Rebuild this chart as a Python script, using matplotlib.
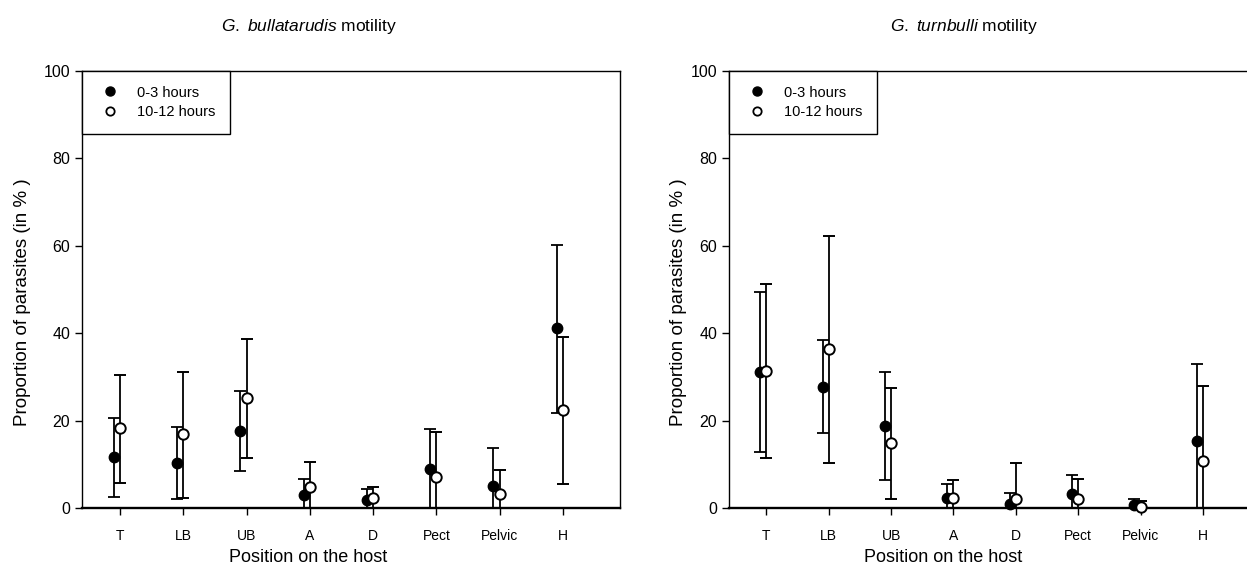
import numpy as np
import matplotlib
matplotlib.use('Agg')
import matplotlib.pyplot as plt
from matplotlib.lines import Line2D

plt.rcParams['font.family'] = ['Liberation Sans', 'DejaVu Sans']
plt.rcParams['mathtext.fontset'] = 'custom'
plt.rcParams['mathtext.it'] = 'Liberation Sans:italic'
plt.rcParams['mathtext.rm'] = 'Liberation Sans'

# categories on the x axis
positions = ['T', 'LB', 'UB', 'A', 'D', 'Pect', 'Pelvic', 'H']

# G. bullatarudis: 0-3 hours (mean, lower, upper)
gb_early = [11.7, 10.2, 17.6, 3.0, 1.8, 8.9, 5.1, 41.1]
gb_early_lo = [2.6, 2.0, 8.5, 0.0, 0.0, 0.0, 0.0, 21.7]
gb_early_hi = [20.7, 18.6, 26.7, 6.6, 4.3, 18.0, 13.7, 60.2]
# G. bullatarudis: 10-12 hours
gb_late = [18.2, 16.9, 25.2, 4.7, 2.2, 7.0, 3.1, 22.4]
gb_late_lo = [5.8, 2.3, 11.4, 0.0, 0.0, 0.0, 0.0, 5.6]
gb_late_hi = [30.4, 31.1, 38.7, 10.5, 4.7, 17.3, 8.8, 39.1]

# G. turnbulli: 0-3 hours
gt_early = [31.2, 27.8, 18.8, 2.2, 0.9, 3.2, 0.7, 15.3]
gt_early_lo = [12.9, 17.1, 6.4, 0.0, 0.0, 0.0, 0.0, 0.0]
gt_early_hi = [49.4, 38.4, 31.1, 5.4, 3.4, 7.5, 2.1, 32.9]
# G. turnbulli: 10-12 hours
gt_late = [31.4, 36.3, 14.8, 2.2, 2.1, 2.1, 0.3, 10.8]
gt_late_lo = [11.4, 10.2, 2.0, 0.0, 0.0, 0.0, 0.0, 0.0]
gt_late_hi = [51.3, 62.2, 27.5, 6.4, 10.4, 6.7, 1.5, 27.9]

fig = plt.figure(figsize=(12.47, 5.79), dpi=100)
ax1 = fig.add_axes([82 / 1247, (579 - 508) / 579, 538 / 1247, 437 / 579])
ax2 = fig.add_axes([729 / 1247, (579 - 508) / 579, 530 / 1247, 437 / 579])


def draw_panel(ax, early, elo, ehi, late, llo, lhi, title, title_x, xlabel_x, ylab_x):
    x = np.arange(1, len(positions) + 1)
    early = np.array(early)
    late = np.array(late)
    err_e = [early - np.array(elo), np.array(ehi) - early]
    err_l = [late - np.array(llo), np.array(lhi) - late]

    ax.errorbar(x - 0.1, early, yerr=err_e, fmt='o', color='black',
                markersize=7.5, markerfacecolor='black', markeredgecolor='black',
                elinewidth=1.3, capsize=4, capthick=1.3, clip_on=False, zorder=3)
    ax.errorbar(x, late, yerr=err_l, fmt='o', color='black',
                markersize=7.5, markerfacecolor='white', markeredgecolor='black',
                markeredgewidth=1.4, elinewidth=1.3, capsize=4, capthick=1.3,
                clip_on=False, zorder=4)

    ax.set_xlim(0.4, 8.9)
    ax.set_ylim(0, 100)
    ax.set_yticks([0, 20, 40, 60, 80, 100])
    ax.set_xticks(x)
    ax.set_xticklabels(positions, fontsize=10)
    ax.tick_params(axis='y', labelsize=11.5, length=5, width=1, direction='out')
    ax.tick_params(axis='x', length=5, width=1, direction='out', pad=10)
    for side in ['left', 'top', 'right']:
        ax.spines[side].set_linewidth(1.0)
    ax.spines['bottom'].set_linewidth(1.7)

    ax.set_ylabel('Proportion of parasites (in % )', fontsize=13.5)
    ax.yaxis.set_label_coords(ylab_x, 0.472)

    fig.text(title_x, 1 - 27 / 579, title, fontsize=12.5, ha='center', va='center')
    fig.text(xlabel_x, 1 - 558 / 579, 'Position on the host', fontsize=13,
             ha='center', va='center')

    handles = [
        Line2D([0], [0], marker='o', linestyle='', color='black',
               markerfacecolor='black', markersize=6.5, label='0-3 hours'),
        Line2D([0], [0], marker='o', linestyle='', color='black',
               markerfacecolor='white', markeredgewidth=1.3, markersize=6,
               label='10-12 hours'),
    ]
    leg = ax.legend(handles=handles, loc='upper left', borderaxespad=0,
                    fancybox=False, edgecolor='black', framealpha=1,
                    fontsize=10.5, borderpad=1.0, handletextpad=1.0,
                    handlelength=1.8, labelspacing=0.4)
    leg.get_frame().set_linewidth(1.0)


draw_panel(ax1, gb_early, gb_early_lo, gb_early_hi, gb_late, gb_late_lo, gb_late_hi,
           r'$\it{G.}$ $\it{bullatarudis}$ motility', 309 / 1247, 308 / 1247, -0.095)
draw_panel(ax2, gt_early, gt_early_lo, gt_early_hi, gt_late, gt_late_lo, gt_late_hi,
           r'$\it{G.}$ $\it{turnbulli}$ motility', 964 / 1247, 943 / 1247, -0.079)

fig.savefig('out.png', dpi=100)
